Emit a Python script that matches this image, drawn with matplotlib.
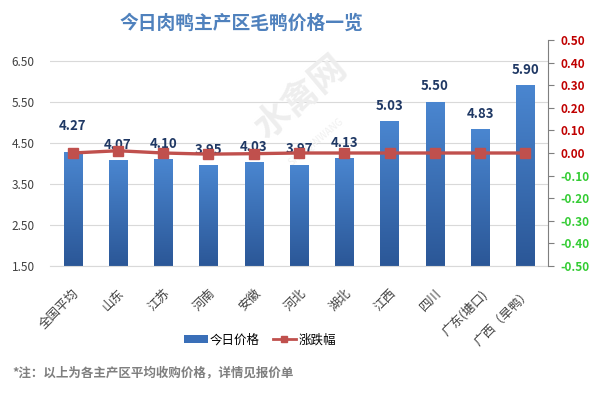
import matplotlib.pyplot as plt
import numpy as np
from matplotlib.colors import LinearSegmentedColormap
from matplotlib.lines import Line2D
from matplotlib.patches import Patch

plt.rcParams["font.family"] = ["Noto Sans CJK SC", "DejaVu Sans"]

REGIONS = ["全国平均", "山东", "江苏", "河南", "安徽", "河北", "湖北", "江西", "四川",
           "广东(塘口)", "广西（旱鸭）"]
PRICE = [4.27, 4.07, 4.10, 3.95, 4.03, 3.97, 4.13, 5.03, 5.50, 4.83, 5.90]
CHANGE = [0.00, 0.01, 0.00, -0.005, -0.003, 0.00, 0.00, 0.00, 0.00, 0.00, 0.00]
LEFT_TICKS = [1.5, 2.5, 3.5, 4.5, 5.5, 6.5]
RIGHT_TICKS = [-0.5, -0.4, -0.3, -0.2, -0.1, 0.0, 0.1, 0.2, 0.3, 0.4, 0.5]

BAR_TOP = "#4a86d0"
BAR_BOT = "#2b5797"
LINE_RED = "#c0504d"

fig = plt.figure(figsize=(5.96, 3.93), dpi=100)
ax = fig.add_axes([50 / 596, 1 - 266 / 393, 498 / 596, 226 / 393])
ax2 = ax.twinx()

x = np.arange(len(REGIONS))
bars = ax.bar(x, PRICE, width=0.4, color=BAR_BOT, zorder=2)

# vertical gradient inside each bar
grad = np.linspace(0, 1, 100).reshape(-1, 1)
cmap = LinearSegmentedColormap.from_list("bar", [BAR_BOT, BAR_TOP])
for b in bars:
    x0, w, h = b.get_x(), b.get_width(), b.get_height()
    im = ax.imshow(grad, cmap=cmap, aspect="auto", origin="lower",
                   extent=[x0, x0 + w, 1.5, h], zorder=2.1)
    im.set_clip_path(b)

ax.set_xlim(-0.5, len(REGIONS) - 0.5)
ax.set_ylim(1.5, 7.0)
ax.set_yticks(LEFT_TICKS)
ax.set_yticklabels([f"{v:.2f}" for v in LEFT_TICKS], fontsize=8.5, color="#404040")
ax.grid(axis="y", color="#d9d9d9", linewidth=0.8, zorder=0)
ax.set_axisbelow(True)
ax.tick_params(axis="y", length=0, pad=11)
ax.set_xticks(x)
ax.set_xticklabels(REGIONS, rotation=45, ha="right", rotation_mode="anchor",
                   fontsize=9, color="#404040")
ax.tick_params(axis="x", length=0, pad=15)
for s in ["top", "right", "left"]:
    ax.spines[s].set_visible(False)
ax.spines["bottom"].set_color("#d9d9d9")

# faint watermark, behind the bars
ax.text(0.505, 0.75, "水禽网", rotation=40, fontsize=26, color="#eeeeee",
        ha="center", va="center", fontweight="bold", zorder=1,
        transform=fig.transFigure)
ax.text(0.53, 0.64, "SHUIQINWANG", rotation=40, fontsize=7, color="#f0f0f0",
        ha="center", va="center", zorder=1, transform=fig.transFigure)

# data labels
nudge = {0: 14}
for i, v in enumerate(PRICE):
    ax.annotate(f"{v:.2f}", (x[i], v), textcoords="offset points",
                xytext=(0, nudge.get(i, 6)), ha="center", va="bottom",
                fontsize=9.5, fontweight="bold", color="#1f3864", zorder=5)

ax2.plot(x, CHANGE, color=LINE_RED, linewidth=2.4, marker="s", markersize=6.5,
         zorder=4)
ax2.set_ylim(-0.5, 0.5)
ax2.set_yticks(RIGHT_TICKS)
ax2.set_yticklabels([f"{v:.2f}" for v in RIGHT_TICKS], fontsize=8.5, fontweight="bold")
for lbl, v in zip(ax2.get_yticklabels(), RIGHT_TICKS):
    lbl.set_color("#c00000" if v >= 0 else "#33cc33")
ax2.tick_params(axis="y", length=4, color="#7f7f7f", pad=5)
for s in ["top", "left", "bottom"]:
    ax2.spines[s].set_visible(False)
ax2.spines["right"].set_color("#7f7f7f")

fig.text(241 / 596, 1 - 23 / 393, "今日肉鸭主产区毛鸭价格一览", ha="center", va="center",
         fontsize=13.5, fontweight="bold", color="#4f81bd")

handles = [Patch(facecolor="#3a6fb8", edgecolor="none"),
           Line2D([0], [0], color=LINE_RED, linewidth=2, marker="s", markersize=5)]
fig.legend(handles, ["今日价格", "涨跌幅"], loc="center", bbox_to_anchor=(260 / 596, 1 - 340 / 393),
           ncol=2, frameon=False, fontsize=9, handlelength=1.9, handleheight=0.6,
           columnspacing=1.0, handletextpad=0.2)

fig.text(12 / 596, 1 - 373 / 393, "*注：以上为各主产区平均收购价格，详情见报价单",
         ha="left", va="center", fontsize=9, fontweight="bold", color="#7f7f7f")

fig.savefig("out.png", dpi=100, facecolor="white")
